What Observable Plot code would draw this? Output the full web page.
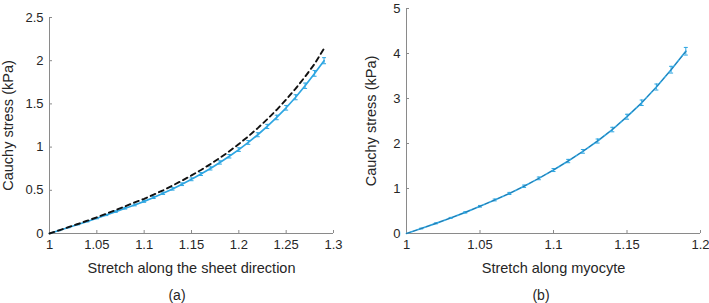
<!DOCTYPE html>
<html><head><meta charset="utf-8">
<script src="https://cdn.jsdelivr.net/npm/d3@7"></script>
<script src="https://cdn.jsdelivr.net/npm/@observablehq/plot@0.6"></script>
<style>
body{margin:0;background:#fff;}
#wrap{position:relative;width:709px;height:303px;font-family:"Liberation Sans",Arial,sans-serif;color:#262626;}
.panel{position:absolute;top:0;}
.cap{position:absolute;top:287px;font-size:14px;line-height:16px;transform:translateX(-50%);}
</style></head><body><div id="wrap"></div>
<script>
// Panel (a): stretch along the sheet direction
const stretchA = [1.00,1.01,1.02,1.03,1.04,1.05,1.06,1.07,1.08,1.09,1.10,1.11,1.12,1.13,1.14,1.15,1.16,1.17,1.18,1.19,1.20,1.21,1.22,1.23,1.24,1.25,1.26,1.27,1.28,1.29];
const stressA = [0,0.034,0.069,0.104,0.139,0.176,0.214,0.253,0.292,0.330,0.372,0.417,0.465,0.516,0.570,0.627,0.688,0.753,0.822,0.894,0.971,1.054,1.143,1.239,1.343,1.455,1.577,1.710,1.853,2.000];
const errA = [0,0.002,0.003,0.004,0.005,0.006,0.007,0.008,0.009,0.010,0.011,0.012,0.013,0.014,0.015,0.016,0.017,0.018,0.019,0.020,0.021,0.022,0.023,0.024,0.026,0.027,0.029,0.031,0.033,0.035];
const modelA = [0,0.036,0.073,0.110,0.148,0.188,0.229,0.271,0.315,0.360,0.402,0.450,0.500,0.555,0.612,0.672,0.735,0.803,0.875,0.952,1.035,1.124,1.220,1.322,1.432,1.550,1.677,1.815,1.963,2.140];
const xTicksA = [1,1.05,1.1,1.15,1.2,1.25,1.3];
const yTicksA = [0,0.5,1,1.5,2,2.5];

// Panel (b): stretch along myocyte
const stretchB = [1.00,1.01,1.02,1.03,1.04,1.05,1.06,1.07,1.08,1.09,1.10,1.11,1.12,1.13,1.14,1.15,1.16,1.17,1.18,1.19];
const stressB = [0,0.110,0.225,0.345,0.470,0.605,0.745,0.890,1.050,1.225,1.410,1.610,1.825,2.055,2.310,2.595,2.905,3.255,3.640,4.050];
const errB = [0,0.008,0.010,0.012,0.015,0.018,0.020,0.023,0.026,0.030,0.033,0.037,0.041,0.045,0.050,0.055,0.061,0.067,0.075,0.085];
const modelB = [0,0.110,0.224,0.344,0.470,0.604,0.745,0.892,1.052,1.226,1.412,1.612,1.826,2.058,2.312,2.596,2.906,3.254,3.638,4.040];
const xTicksB = [1,1.05,1.1,1.15,1.2];
const yTicksB = [0,1,2,3,4,5];

const BLUE = "#2ea6e2";
const GRAY = "#8a8a8a";
const TXT = "#262626";
const fmt = d => String(+(+d).toFixed(2));
const capSymbol = {draw(ctx, size){const r = Math.sqrt(size/Math.PI); ctx.moveTo(-r,0); ctx.lineTo(r,0);}};

function makePanel(o) {
  const pts = o.xs.map((x,i)=>({x, y:o.ys[i], e:o.errs[i]}));
  const model = o.xs.map((x,i)=>({x, y:o.model[i]}));
  const marks = [
    Plot.ruleY([o.yDomain[0]], {stroke: GRAY, strokeWidth: 1}),
    Plot.ruleX([o.xDomain[0]], {stroke: GRAY, strokeWidth: 1}),
    Plot.axisX({ticks: o.xTicks, tickSize: -3, tickPadding: 9, tickFormat: fmt, stroke: GRAY, fill: TXT, fontSize: 13, label: null}),
    Plot.axisY({ticks: o.yTicks, tickSize: -3, tickPadding: 9, tickFormat: fmt, stroke: GRAY, fill: TXT, fontSize: 13, label: null}),
    Plot.text([o.xLabel], {frameAnchor: "bottom", dy: 35, lineAnchor: "middle", textAnchor: "middle", fontSize: 14.5, fill: TXT}),
    Plot.text([o.yLabel], {frameAnchor: "left", dx: o.yLabelDx, rotate: -90, lineAnchor: "middle", textAnchor: "middle", fontSize: 14.5, fill: TXT}),
    Plot.line(pts, {x:"x", y:"y", stroke: BLUE, strokeWidth: 1.7}),
    Plot.ruleX(pts.slice(1), {x:"x", y1: d=>d.y-d.e, y2: d=>d.y+d.e, stroke: BLUE, strokeWidth: 1}),
    Plot.dot(pts.slice(1), {x:"x", y: d=>d.y+d.e, symbol: capSymbol, r: 2, stroke: BLUE, strokeWidth: 1}),
    Plot.dot(pts.slice(1), {x:"x", y: d=>d.y-d.e, symbol: capSymbol, r: 2, stroke: BLUE, strokeWidth: 1}),
    Plot.line(model, {x:"x", y:"y", stroke: o.modelColor, strokeWidth: o.modelWidth, strokeDasharray: o.dash, strokeOpacity: o.modelOpacity})
  ];
  return Plot.plot({
    width: o.width, height: 303,
    marginLeft: o.ml, marginRight: o.mr, marginTop: o.mt, marginBottom: o.mb,
    style: {fontFamily: '"Liberation Sans", Arial, sans-serif', background: "white", color: TXT, overflow: "visible"},
    x: {domain: o.xDomain, label: null},
    y: {domain: o.yDomain, label: null},
    marks
  });
}

const wrap = document.getElementById("wrap");
const a = makePanel({xs: stretchA, ys: stressA, errs: errA, model: modelA, xDomain: [1,1.3], yDomain: [0,2.5],
  xTicks: xTicksA, yTicks: yTicksA, xLabel: "Stretch along the sheet direction", yLabel: "Cauchy stress (kPa)",
  width: 354, ml: 49, mr: 21, mt: 17, mb: 70, yLabelDx: -41, modelColor: "#111", modelWidth: 1.9, modelOpacity: 1, dash: "5,4"});
const b = makePanel({xs: stretchB, ys: stressB, errs: errB, model: modelB, xDomain: [1,1.2], yDomain: [0,5],
  xTicks: xTicksB, yTicks: yTicksB, xLabel: "Stretch along myocyte", yLabel: "Cauchy stress (kPa)",
  width: 355, ml: 52, mr: 9, mt: 8, mb: 70, yLabelDx: -35.5, modelColor: "#1c3d63", modelWidth: 1.0, modelOpacity: 0.45, dash: "4,3"});
const da = document.createElement("div"); da.className = "panel"; da.style.left = "0px"; da.appendChild(a);
const db = document.createElement("div"); db.className = "panel"; db.style.left = "354px"; db.appendChild(b);
wrap.appendChild(da); wrap.appendChild(db);
const ca = document.createElement("div"); ca.className = "cap"; ca.style.left = "177px"; ca.textContent = "(a)";
const cb = document.createElement("div"); cb.className = "cap"; cb.style.left = "541px"; cb.textContent = "(b)";
wrap.appendChild(ca); wrap.appendChild(cb);
</script></body></html>
